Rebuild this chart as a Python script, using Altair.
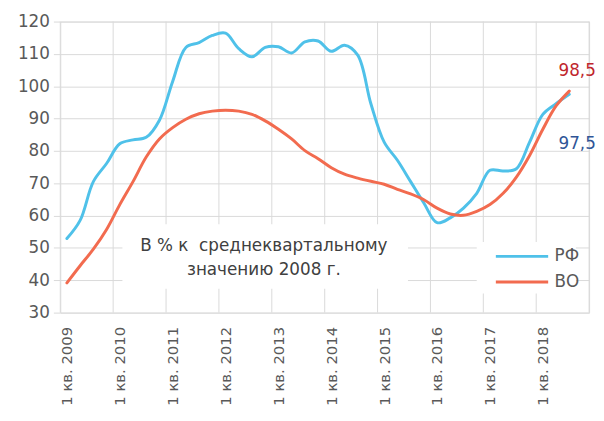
import altair as alt
import pandas as pd

# ---- data ----
year_labels = ["1 кв. 2009", "1 кв. 2010", "1 кв. 2011", "1 кв. 2012", "1 кв. 2013",
               "1 кв. 2014", "1 кв. 2015", "1 кв. 2016", "1 кв. 2017", "1 кв. 2018"]
rf = [52.9, 58.5, 70.5, 76.1, 82.2, 83.4, 84.2, 89.5, 101.5, 112.0,
      113.5, 115.7, 116.4, 111.6, 109.1, 112.0, 112.2, 110.3, 113.7, 114.0,
      110.8, 112.7, 109.6, 94.5, 82.7, 77.1, 70.5, 63.9, 57.8, 59.3,
      62.3, 66.9, 74.0, 73.8, 74.5, 82.7, 91.3, 94.6, 97.5]
vo = [39.2, 44.5, 49.6, 55.7, 63.4, 70.5, 78.1, 83.7, 87.2, 89.8,
      91.5, 92.3, 92.6, 92.3, 91.3, 89.3, 86.7, 83.7, 80.1, 77.6,
      74.8, 72.8, 71.6, 70.6, 69.7, 68.1, 66.7, 64.9, 62.3, 60.5,
      60.1, 61.3, 63.4, 66.9, 71.9, 78.6, 86.7, 93.9, 98.5]
series_names = ["РФ", "ВО"]
series_colors = ["#4FC1E9", "#F26B4F"]
end_labels = ["97,5", "98,5"]
end_label_colors = ["#2F5597", "#C0262D"]
y_ticks = [30, 40, 50, 60, 70, 80, 90, 100, 110, 120]
n_categories = 40
annotation_lines = ["В % к\u00a0 среднеквартальному", "значению 2008 г."]

FONT = "DejaVu Sans"
TEXT = "#595959"
GRID = "#D9D9D9"

n = len(rf)
df = pd.DataFrame({
    "i": list(range(n)) * 2,
    "value": rf + vo,
    "series": [series_names[0]] * n + [series_names[1]] * n,
})
grid_df = pd.DataFrame({"i": [k - 0.5 for k in range(0, n_categories + 1, 4)]})
# white backgrounds behind the annotation and the legend
box_df = pd.DataFrame({"i": [4.2, 31.0], "i2": [25.8, 38.5],
                       "value": [37.4, 35.9], "value2": [57.3, 51.8]})
ann_df = pd.DataFrame({"txt": annotation_lines, "value": [50.6, 43.0], "i": [14.9, 14.9]})
rf_lab = pd.DataFrame({"i": [n - 1], "value": [rf[-1]], "txt": [end_labels[0]]})
vo_lab = pd.DataFrame({"i": [n - 1], "value": [vo[-1]], "txt": [end_labels[1]]})

xscale = alt.Scale(domain=[-0.5, n_categories - 0.5], nice=False, zero=False)
yscale = alt.Scale(domain=[30, 120], nice=False, zero=False)

label_expr = "[" + ",".join("'" + s + "'" for s in year_labels) + "][round(datum.value/4)]"

xaxis = alt.Axis(values=list(range(0, n_categories, 4)), labelExpr=label_expr,
                 labelAngle=-90, ticks=False, domain=False, grid=False,
                 labelFont=FONT, labelFontSize=15, labelColor=TEXT,
                 labelPadding=14, title=None)
yaxis = alt.Axis(values=y_ticks, grid=True, gridColor=GRID, domain=False,
                 ticks=True, tickSize=7, tickColor=GRID,
                 labelFont=FONT, labelFontSize=17, labelColor=TEXT,
                 labelPadding=4, title=None)

X = alt.X("i:Q", scale=xscale, axis=xaxis)
Y = alt.Y("value:Q", scale=yscale, axis=yaxis)

vgrid = alt.Chart(grid_df).mark_rule(color=GRID, strokeWidth=1).encode(x=X)

box = alt.Chart(box_df).mark_rect(color="white").encode(
    x=X, x2="i2:Q", y=Y, y2="value2:Q",
)

ann = alt.Chart(ann_df).mark_text(font=FONT, fontSize=17, color="#404040",
                                  baseline="middle", align="center").encode(
    x=X, y=Y, text="txt:N",
)

lines = alt.Chart(df).mark_line(interpolate="catmull-rom", strokeWidth=3, strokeCap="round").encode(
    x=X, y=Y,
    color=alt.Color("series:N", scale=alt.Scale(domain=series_names, range=series_colors),
                    legend=alt.Legend(orient="none", legendX=452, legendY=222,
                                      padding=4, title=None,
                                      symbolType="M-2.6,0H2.6", symbolSize=416,
                                      symbolStrokeWidth=3, labelFont=FONT,
                                      labelFontSize=17, labelColor=TEXT,
                                      labelOffset=21, rowPadding=6)),
    order="i:Q",
)

rf_text = alt.Chart(rf_lab).mark_text(font=FONT, fontSize=17, baseline="middle",
                                      align="center", dx=8, dy=50,
                                      color=end_label_colors[0]).encode(
    x=X, y=Y, text="txt:N",
)
vo_text = alt.Chart(vo_lab).mark_text(font=FONT, fontSize=17, baseline="middle",
                                      align="center", dx=8, dy=-20,
                                      color=end_label_colors[1]).encode(
    x=X, y=Y, text="txt:N",
)

chart = alt.layer(vgrid, box, ann, lines, rf_text, vo_text).properties(
    width=536, height=295,
    padding={"left": 53, "top": 11, "right": 7, "bottom": 98},
    autosize=alt.AutoSizeParams(type="none"),
).configure_view(stroke=None).configure(background="white")

chart.save("out.html", embed_options={"renderer": "svg", "actions": False})
